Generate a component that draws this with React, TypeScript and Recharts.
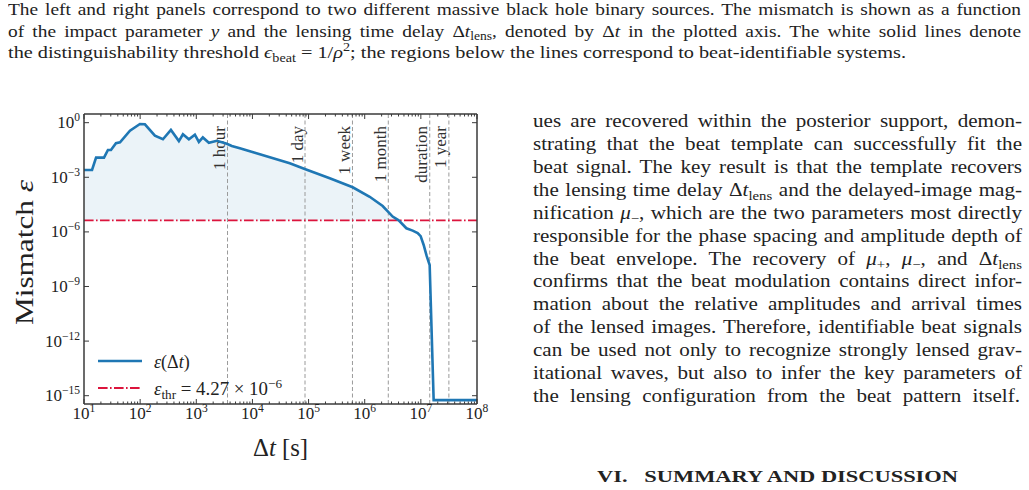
import React from 'react';
import { ComposedChart, Area, Line, XAxis, YAxis, ReferenceLine, Legend, Label } from 'recharts';

// Lensing time delay Δt [s] and the mismatch ε(Δt) of the beat template
const delaySeconds = [
  10, 13.9, 16.4, 22.7, 26.7, 30.2, 37.1, 43.8, 65.9, 99.1, 121.6, 183.2, 254.7, 353.2, 489.8,
  578.1, 738.0, 944.1, 1112, 1309, 1675, 2328, 3499, 4295, 5970, 11040, 20420, 46240, 85510,
  238300, 610900, 1.227e6, 2.089e6, 3.148e6, 4.027e6, 5.521e6, 7.145e6, 8.77e6, 9.908e6,
  1.122e7, 1.268e7, 1.435e7, 1.69e7, 1e8,
];
const mismatch = [
  2.51e-3, 2.51e-3, 1.2e-2, 1.2e-2, 3.16e-2, 3.16e-2, 7.41e-2, 8.32e-2, 0.363, 0.851, 0.813, 0.195,
  0.123, 0.398, 0.0977, 0.229, 0.123, 0.219, 0.0871, 0.155, 0.0794, 0.102, 0.0692, 0.0525, 0.0389,
  0.0224, 0.0126, 5.89e-3, 2.88e-3, 8.91e-4, 2.82e-4, 8.51e-5, 2.63e-5, 6.92e-6, 4.3e-6, 1.58e-6,
  1.17e-6, 8.71e-7, 5.89e-7, 1.91e-7, 4.79e-8, 1.51e-8, 5.75e-16, 5.75e-16,
];

// Distinguishability threshold ε_thr
const thresholdEps = 4.27e-6;

// Reference time scales marked by vertical dashed lines
const markerNames = ['1 hour', '1 day', '1 week', '1 month', 'duration', '1 year'];
const markerSeconds = [3600, 86400, 604800, 2629800, 1.44e7, 3.156e7];

const xMajorTicks = [1e1, 1e2, 1e3, 1e4, 1e5, 1e6, 1e7, 1e8];
const minorMantissas = [2, 3, 4, 5, 6, 7, 8, 9];
const yMajorTicks = [1, 1e-3, 1e-6, 1e-9, 1e-12, 1e-15];
const xDomain = [1e1, 1e8];
const yDomain = [3.5e-16, 3.0];

// Surrounding page text (* toggles italics, _{..} subscript, ^{..} superscript)
const captionLines = [
  'The left and right panels correspond to two different massive black hole binary sources. The mismatch is shown as a function',
  'of the impact parameter *y* and the lensing time delay Δ*t*_{lens}, denoted by Δ*t* in the plotted axis. The white solid lines denote',
  'the distinguishability threshold *ϵ*_{beat} = 1/*ρ*^{2}; the regions below the lines correspond to beat-identifiable systems.',
];
const bodyLines = [
  'ues are recovered within the posterior support, demon-',
  'strating that the beat template can successfully fit the',
  'beat signal. The key result is that the template recovers',
  'the lensing time delay Δ*t*_{lens} and the delayed-image mag-',
  'nification *μ*_{−}, which are the two parameters most directly',
  'responsible for the phase spacing and amplitude depth of',
  'the beat envelope. The recovery of *μ*_{+}, *μ*_{−}, and Δ*t*_{lens}',
  'confirms that the beat modulation contains direct infor-',
  'mation about the relative amplitudes and arrival times',
  'of the lensed images. Therefore, identifiable beat signals',
  'can be used not only to recognize strongly lensed grav-',
  'itational waves, but also to infer the key parameters of',
  'the lensing configuration from the beat pattern itself.',
];
const sectionHeading = 'VI.   SUMMARY AND DISCUSSION';

const SERIF = '"Liberation Serif", "Times New Roman", serif';
const INK = '#222';
const AXIS = '#3a3a3a';
const BLUE = '#1f77b4';
const RED = '#dc143c';
const DASHDOT = '9.6 2.4 1.6 2.4';
const CAPTION_FONT = 17;
const BODY_FONT = 18;

const data = delaySeconds.map((t, i) => ({ t, eps: mismatch[i] }));

const xTicks = [
  ...xMajorTicks,
  ...xMajorTicks.slice(0, -1).flatMap((d) => minorMantissas.map((m) => m * d)),
].sort((a, b) => a - b);

const thrExp = Math.floor(Math.log10(thresholdEps));
const thrMant = (thresholdEps / Math.pow(10, thrExp)).toFixed(2);

type Seg = { t: string; it: boolean; pos: number };
function parseRich(src: string): Seg[] {
  const out: Seg[] = [];
  let it = false;
  let pos = 0;
  let buf = '';
  const flush = () => {
    if (buf) out.push({ t: buf, it, pos });
    buf = '';
  };
  for (let i = 0; i < src.length; i++) {
    const c = src[i];
    if (c === '*') {
      flush();
      it = !it;
    } else if ((c === '_' || c === '^') && src[i + 1] === '{') {
      flush();
      pos = c === '_' ? 1 : -1;
      i++;
    } else if (c === '}' && pos !== 0) {
      flush();
      pos = 0;
    } else buf += c;
  }
  flush();
  return out;
}

// SVG tspans for inline math
function rich(src: string, size: number) {
  let cur = 0;
  return parseRich(src).map((s, k) => {
    const shift = s.pos === 1 ? size * 0.22 : s.pos === -1 ? -size * 0.4 : 0;
    const dy = shift - cur;
    cur = shift;
    return (
      <tspan
        key={k}
        dy={dy !== 0 ? dy : undefined}
        fontStyle={s.it ? 'italic' : undefined}
        fontSize={s.pos ? size * 0.7 : undefined}
      >
        {s.t}
      </tspan>
    );
  });
}

// HTML spans for the justified page text
function richHtml(src: string) {
  return parseRich(src).map((s, k) => (
    <span
      key={k}
      style={{
        fontStyle: s.it ? 'italic' : undefined,
        fontSize: s.pos ? '0.7em' : undefined,
        position: s.pos ? 'relative' : undefined,
        top: s.pos === 1 ? '0.32em' : s.pos === -1 ? '-0.57em' : undefined,
      }}
    >
      {s.t}
    </span>
  ));
}

let measureCtx: CanvasRenderingContext2D | null = null;
function naturalWidth(src: string, size: number): number {
  if (!measureCtx) measureCtx = document.createElement('canvas').getContext('2d');
  if (!measureCtx) return 0;
  let w = 0;
  for (const s of parseRich(src)) {
    const fs = s.pos ? size * 0.7 : size;
    measureCtx.font = `${s.it ? 'italic ' : ''}${fs}px "Liberation Serif"`;
    w += measureCtx.measureText(s.t).width;
  }
  return w;
}

const isDecade = (v: number) => Math.abs(Math.log10(v) - Math.round(Math.log10(v))) < 1e-6;
const fmtExp = (e: number) => (e < 0 ? '\u2212' + -e : String(e));

const TICK_FONT = 17;

const Pow10 = ({ x, y, exp, anchor }: { x: number; y: number; exp: number; anchor: string }) => (
  <text x={x} y={y} textAnchor={anchor as any} fontFamily={SERIF} fontSize={TICK_FONT} fill={INK}>
    10
    <tspan dy={-7} fontSize={TICK_FONT * 0.68}>
      {fmtExp(exp)}
    </tspan>
  </text>
);

function BottomTick(props: any) {
  const { x, y, payload } = props;
  const major = isDecade(payload.value);
  return (
    <g>
      <line x1={x} x2={x} y1={y} y2={y - (major ? 5 : 2.5)} stroke={AXIS} strokeWidth={1} />
      {major && <Pow10 x={x} y={y + 15} exp={Math.round(Math.log10(payload.value))} anchor="middle" />}
    </g>
  );
}

function TopTick(props: any) {
  const { x, y, payload } = props;
  const major = isDecade(payload.value);
  return <line x1={x} x2={x} y1={y} y2={y + (major ? 5 : 2.5)} stroke={AXIS} strokeWidth={1} />;
}

function LeftTick(props: any) {
  const { x, y, payload } = props;
  return (
    <g>
      <line x1={x} x2={x + 5} y1={y} y2={y} stroke={AXIS} strokeWidth={1} />
      <Pow10 x={x - 4} y={y + 5.5} exp={Math.round(Math.log10(payload.value))} anchor="end" />
    </g>
  );
}

function RightTick(props: any) {
  const { x, y } = props;
  return <line x1={x} x2={x - 5} y1={y} y2={y} stroke={AXIS} strokeWidth={1} />;
}

function MarkerLabel(props: any) {
  const { viewBox, text } = props;
  if (!viewBox) return null;
  return (
    <text
      transform={`translate(${viewBox.x - 2.5},${viewBox.y + 12}) rotate(-90)`}
      textAnchor="end"
      fontFamily={SERIF}
      fontSize={17}
      fill="#333"
    >
      {text}
    </text>
  );
}

function LegendBox() {
  return (
    <svg width={230} height={60} style={{ display: 'block', overflow: 'visible' }}>
      <line x1={8} x2={52} y1={16} y2={16} stroke={BLUE} strokeWidth={2.5} />
      <text x={64} y={22.5} fontFamily={SERIF} fontSize={18} fill={INK}>
        {rich('*ε*(Δ*t*)', 18)}
      </text>
      <line x1={8} x2={52} y1={43} y2={43} stroke={RED} strokeWidth={1.8} strokeDasharray={DASHDOT} />
      <text
        x={64}
        y={50}
        fontFamily={SERIF}
        fontSize={18}
        fill={INK}
        textLength={128}
        lengthAdjust="spacingAndGlyphs"
      >
        {rich(`*ε*_{thr} = ${thrMant} × 10^{${fmtExp(thrExp)}}`, 18)}
      </text>
    </svg>
  );
}

// One typeset line of page text, placed by its baseline. Glyphs are widened a
// little and the remaining room goes into the word spaces (justified lines);
// a free line is widened to end at the given width.
function PageLine({
  src,
  left,
  baseline,
  width,
  size,
  maxStretch,
  justify,
}: {
  src: string;
  left: number;
  baseline: number;
  width: number;
  size: number;
  maxStretch: number;
  justify: boolean;
}) {
  const natural = naturalWidth(src, size) || width / maxStretch;
  const s = justify ? Math.min(width / natural, maxStretch) : width / natural;
  return (
    <div
      style={{
        position: 'absolute',
        left,
        top: baseline - 0.8375 * size,
        width: width / s,
        height: size,
        transform: `scaleX(${s})`,
        transformOrigin: 'left top',
        fontFamily: SERIF,
        fontSize: size,
        lineHeight: `${size}px`,
        color: INK,
        whiteSpace: 'nowrap',
        textAlign: justify ? 'justify' : 'left',
        textAlignLast: justify ? 'justify' : 'left',
      }}
    >
      {richHtml(src)}
    </div>
  );
}

export default function App() {
  return (
    <div style={{ position: 'absolute', left: 0, top: 0, width: 1029, height: 490, background: '#fff' }}>
      <div style={{ position: 'absolute', left: 0, top: 0 }}>
        <ComposedChart
          width={1029}
          height={490}
          data={data}
          margin={{ top: 113, left: 83, right: 551, bottom: 85 }}
        >
          <XAxis
            dataKey="t"
            type="number"
            scale="log"
            domain={xDomain}
            allowDataOverflow
            ticks={xTicks}
            interval={0}
            height={1}
            tickSize={0}
            tickMargin={0}
            tickLine={false}
            axisLine={{ stroke: AXIS, strokeWidth: 1.5 }}
            tick={<BottomTick />}
          >
            <Label
              content={() => (
                <text
                  x={280.5}
                  y={456}
                  textAnchor="middle"
                  fontFamily={SERIF}
                  fontSize={25}
                  fill={INK}
                  textLength={55}
                  lengthAdjust="spacingAndGlyphs"
                >
                  {rich('Δ*t* [s]', 25)}
                </text>
              )}
            />
          </XAxis>
          <XAxis
            xAxisId="top"
            orientation="top"
            dataKey="t"
            type="number"
            scale="log"
            domain={xDomain}
            allowDataOverflow
            ticks={xTicks}
            interval={0}
            height={1}
            tickSize={0}
            tickMargin={0}
            tickLine={false}
            axisLine={{ stroke: AXIS, strokeWidth: 1.5 }}
            tick={<TopTick />}
          />
          <YAxis
            type="number"
            scale="log"
            domain={yDomain}
            allowDataOverflow
            ticks={yMajorTicks}
            interval={0}
            width={1}
            tickSize={0}
            tickMargin={0}
            tickLine={false}
            axisLine={{ stroke: AXIS, strokeWidth: 1.5 }}
            tick={<LeftTick />}
          >
            <Label
              content={() => (
                <text
                  transform="translate(33,252.5) rotate(-90)"
                  textAnchor="middle"
                  fontFamily={SERIF}
                  fontSize={26}
                  fill={INK}
                  textLength={145}
                  lengthAdjust="spacingAndGlyphs"
                >
                  {rich('Mismatch *ε*', 26)}
                </text>
              )}
            />
          </YAxis>
          <YAxis
            yAxisId="right"
            orientation="right"
            type="number"
            scale="log"
            domain={yDomain}
            allowDataOverflow
            ticks={yMajorTicks}
            interval={0}
            width={1}
            tickSize={0}
            tickMargin={0}
            tickLine={false}
            axisLine={{ stroke: AXIS, strokeWidth: 1.5 }}
            tick={<RightTick />}
          />
          {markerSeconds.map((s, i) => (
            <ReferenceLine
              key={markerNames[i]}
              x={s}
              stroke="#9a9a9a"
              strokeWidth={1}
              strokeDasharray="4 2.5"
              label={<MarkerLabel text={markerNames[i]} />}
            />
          ))}
          <Area
            dataKey={(d: any) => [thresholdEps, Math.max(d.eps, thresholdEps)]}
            type="linear"
            stroke="none"
            fill={BLUE}
            fillOpacity={0.09}
            isAnimationActive={false}
          />
          <ReferenceLine y={thresholdEps} stroke={RED} strokeWidth={1.8} strokeDasharray={DASHDOT} />
          <Line
            dataKey="eps"
            type="linear"
            stroke={BLUE}
            strokeWidth={2.6}
            dot={false}
            isAnimationActive={false}
          />
          <Legend
            layout="vertical"
            align="center"
            verticalAlign="middle"
            wrapperStyle={{ position: 'absolute', left: 90, top: 345, width: 230, height: 60 }}
            content={() => <LegendBox />}
          />
        </ComposedChart>
      </div>
      {captionLines.map((line, i) => (
        <PageLine
          key={'c' + i}
          src={line}
          left={8}
          baseline={15.5 + i * 21.3}
          width={i < captionLines.length - 1 ? 1013 : 898}
          size={CAPTION_FONT}
          maxStretch={1.14}
          justify={i < captionLines.length - 1}
        />
      ))}
      {bodyLines.map((line, i) => (
        <PageLine
          key={'b' + i}
          src={line}
          left={533}
          baseline={127.5 + i * 22.85}
          width={i === bodyLines.length - 1 ? 487 : 489}
          size={BODY_FONT}
          maxStretch={1.17}
          justify
        />
      ))}
      <svg
        width={1029}
        height={490}
        style={{ position: 'absolute', left: 0, top: 0, pointerEvents: 'none' }}
      >
        <text
          x={597}
          y={482}
          textLength={361}
          lengthAdjust="spacingAndGlyphs"
          fontFamily={SERIF}
          fontSize={16}
          fontWeight="bold"
          fill={INK}
          style={{ whiteSpace: 'pre' }}
        >
          {sectionHeading}
        </text>
      </svg>
    </div>
  );
}
